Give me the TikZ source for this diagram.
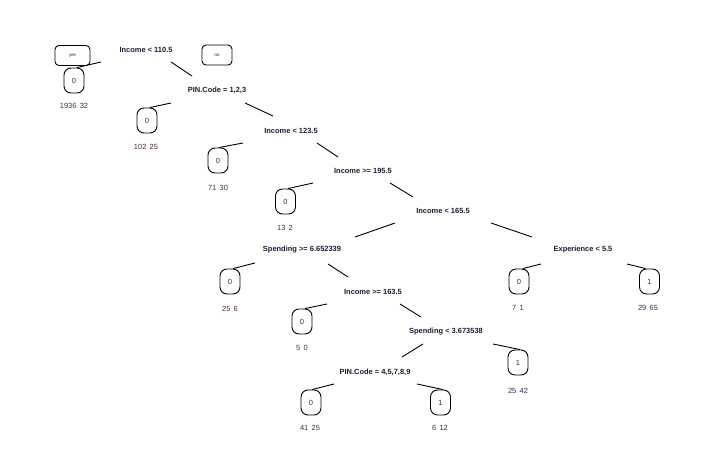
\documentclass[tikz,border=0pt]{standalone}
\usepackage{fontspec}
\setmainfont{Liberation Sans}
\usetikzlibrary{calc}
\definecolor{splitcol}{HTML}{1A1F38}
\definecolor{zerocol}{HTML}{4E2A2A}
\definecolor{onecol}{HTML}{262E5A}
\tikzset{
  split/.style={inner sep=0pt, font=\fontsize{7.5}{9}\selectfont\bfseries, text=splitcol},
  leafbox/.style={draw, line width=0.9bp, rounded corners=7bp, minimum width=20bp, minimum height=25bp, inner sep=0pt, fill=white, font=\fontsize{7.5}{9}\selectfont},
  zero/.style={leafbox, text=zerocol},
  one/.style={leafbox, text=onecol},
  cnt/.style={inner sep=0pt, font=\fontsize{7.5}{9}\selectfont},
  cntzero/.style={cnt, text=zerocol},
  cntone/.style={cnt, text=onecol},
  conn/.style={line width=0.9bp},
  tag/.style={draw, line width=0.9bp, rounded corners=4bp, fill=white, inner sep=0pt, font=\fontsize{4.5}{5}\selectfont, text=splitcol}
}
\begin{document}
\begin{tikzpicture}[x=1bp, y=-1bp]
\useasboundingbox (0,0) rectangle (717,467);
\fill[white] (0,0) rectangle (717,467);

% split labels
\node[split] (root) at (146,50) {Income < 110.5};
\node[split] (pin1) at (217,90) {PIN.Code = 1,2,3};
\node[split] (inc2) at (291,131) {Income < 123.5};
\node[split] (inc3) at (363,171) {Income >= 195.5};
\node[split] (inc4) at (443,211) {Income < 165.5};
\node[split] (spd1) at (302,250) {Spending >= 6.652339};
\node[split] (exp)  at (583,250) {Experience < 5.5};
\node[split] (inc5) at (373,292) {Income >= 163.5};
\node[split] (spd2) at (446,332) {Spending < 3.673538};
\node[split] (pin2) at (375,372) {PIN.Code = 4,5,7,8,9};

% leaves
\node[zero] (L1)  at (74,80.5)    {0};
\node[zero] (L2)  at (147,120.5)  {0};
\node[zero] (L3)  at (218,160.5)  {0};
\node[zero] (L4)  at (285.5,201.5){0};
\node[zero] (L5)  at (230,281.5)  {0};
\node[zero] (L6)  at (302,321.5)  {0};
\node[zero] (L7)  at (519,281.5)  {0};
\node[one]  (L8)  at (649.5,281.5){1};
\node[one]  (L9)  at (518,362.5)  {1};
\node[zero] (L10) at (311,402.5)  {0};
\node[one]  (L11) at (440.5,402.5){1};

% counts
\node[cntzero] (c1)  at (74,106)   {1936\, 32};
\node[cntzero] (c2)  at (146,147)  {102\, 25};
\node[cntzero] (c3)  at (218,188)  {71\, 30};
\node[cntzero] (c4)  at (285,228)  {13\, 2};
\node[cntzero] (c5)  at (230,309)  {25\, 6};
\node[cntzero] (c6)  at (302,348)  {5\, 0};
\node[cntzero] (c7)  at (518,308)  {7\, 1};
\node[cntone]  (c8)  at (648,308)  {29\, 65};
\node[cntone]  (c9)  at (518,391)  {25\, 42};
\node[cntzero] (c10) at (310,428)  {41\, 25};
\node[cntone]  (c11) at (440,428)  {6\, 12};

% connectors
\draw[conn] ($(root)+(-45,12)$) -- ($(L1.north)+(3,0)$);
\draw[conn] ($(root)+(25,12)$) -- ($(pin1)+(-25,-14)$);
\draw[conn] ($(pin1)+(-46,13)$) -- ($(L2.north)+(3,0)$);
\draw[conn] ($(pin1)+(28,13)$) -- ($(inc2)+(-18,-15)$);
\draw[conn] ($(inc2)+(-48,12)$) -- ($(L3.north)+(1,0)$);
\draw[conn] ($(inc2)+(26,12)$) -- ($(inc3)+(-25,-14)$);
\draw[conn] ($(inc3)+(-50,12)$) -- ($(L4.north)+(2.5,0)$);
\draw[conn] ($(inc3)+(27,12)$) -- ($(inc4)+(-30,-14)$);
\draw[conn] ($(inc4)+(-48,12)$) -- ($(spd1)+(53,-13)$);
\draw[conn] ($(inc4)+(48,12)$) -- ($(exp)+(-51,-13)$);
\draw[conn] ($(exp)+(-42,14)$) -- ($(L7.north)+(4,0)$);
\draw[conn] ($(exp)+(44,14)$) -- ($(L8.north)+(-4,0)$);
\draw[conn] ($(spd1)+(-47,13)$) -- ($(L5.north)+(3,0)$);
\draw[conn] ($(spd1)+(26,14)$) -- ($(inc5)+(-25,-15)$);
\draw[conn] ($(inc5)+(-46,12)$) -- ($(L6.north)+(3,0)$);
\draw[conn] ($(inc5)+(27,12)$) -- ($(spd2)+(-25,-15)$);
\draw[conn] ($(spd2)+(47,12)$) -- ($(L9.north)+(2,0)$);
\draw[conn] ($(spd2)+(-23,12)$) -- ($(pin2)+(27,-15)$);
\draw[conn] ($(pin2)+(-41,12)$) -- ($(L10.north)+(1,0)$);
\draw[conn] ($(pin2)+(42,12)$) -- ($(L11.north)+(2.5,0)$);

% yes / no tags
\node[tag, minimum width=35bp, minimum height=20bp] (yes) at (72.5,55.5) {\raisebox{-1.5bp}{yes}};
\node[tag, minimum width=30bp, minimum height=20bp] (no) at (217,55) {no};
\end{tikzpicture}
\end{document}
